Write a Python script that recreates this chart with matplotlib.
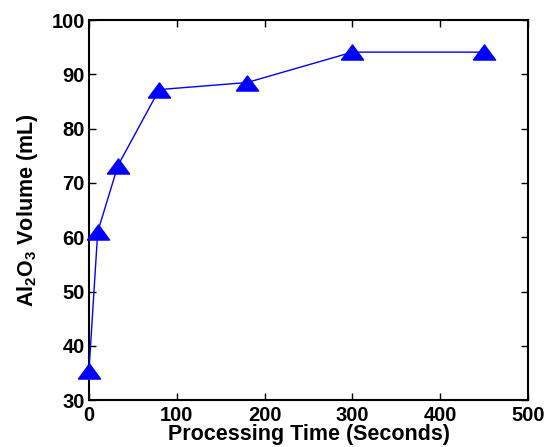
import matplotlib
matplotlib.use("Agg")
import matplotlib.pyplot as plt

# data
time_s = [0, 10, 33, 80, 180, 300, 450]
volume_ml = [35.3, 61, 73.2, 87.2, 88.5, 94.1, 94.1]
x_ticks = [0, 100, 200, 300, 400, 500]
y_ticks = [30, 40, 50, 60, 70, 80, 90, 100]

plt.rcParams["font.family"] = "Liberation Sans"
plt.rcParams["font.weight"] = "bold"
plt.rcParams["mathtext.fontset"] = "custom"
plt.rcParams["mathtext.rm"] = "Liberation Sans:bold"
plt.rcParams["mathtext.bf"] = "Liberation Sans:bold"
plt.rcParams["mathtext.default"] = "bf"

# wide flat triangle like MATLAB's '^'
tri = [(-1, -0.68), (1, -0.68), (0, 0.68), (-1, -0.68)]

fig = plt.figure(figsize=(5.49, 4.47), dpi=100)
ax = fig.add_axes([0.162, 0.105, 0.80, 0.850])

ax.plot(time_s, volume_ml, color="#0000ff", linewidth=1.0,
        marker=tri, markersize=16, markerfacecolor="#0000ff",
        markeredgecolor="#0000ff", clip_on=False, zorder=3)

ax.set_xlim(0, 500)
ax.set_ylim(30, 100)
ax.set_xticks(x_ticks)
ax.set_yticks(y_ticks)
ax.tick_params(direction="in", top=True, right=True, length=5, width=1,
               labelsize=14.5)
ax.tick_params(axis="x", pad=4)
ax.tick_params(axis="y", pad=3)
for lbl in ax.get_xticklabels() + ax.get_yticklabels():
    lbl.set_fontweight("bold")
for sp in ax.spines.values():
    sp.set_linewidth(1.5)

ax.set_xlabel("Processing Time (Seconds)", fontsize=15.5, fontweight="bold")
ax.xaxis.set_label_coords(0.5, -0.062)
ax.set_ylabel("Al$_2$O$_3$ Volume (mL)", fontsize=15.5, fontweight="bold",
              labelpad=8)

fig.savefig("out.png", dpi=100)
